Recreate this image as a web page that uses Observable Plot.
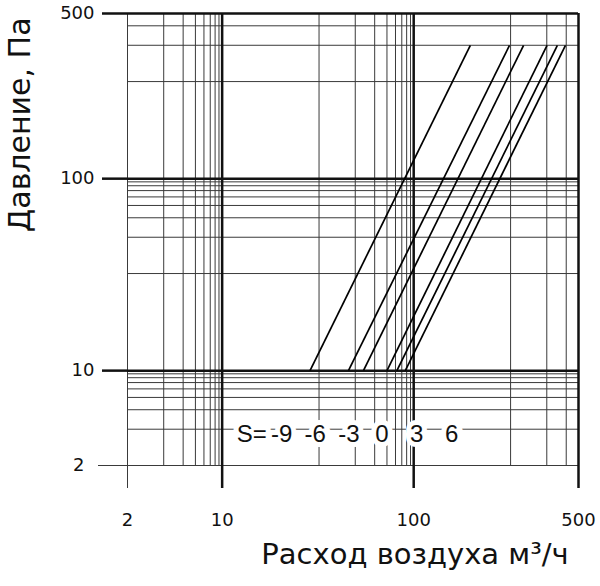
<!DOCTYPE html>
<html>
<head>
<meta charset="utf-8">
<script src="https://cdn.jsdelivr.net/npm/d3@7"></script>
<script src="https://cdn.jsdelivr.net/npm/@observablehq/plot@0.6"></script>
<style>
  body { margin: 0; background: #fff; }
</style>
</head>
<body>
<div id="chart"></div>
<script>
// the catalogue grid is a "squeezed" log scale: every decade has the same width,
// but the 2..9 lines inside it crowd toward the next power of ten
const P = 0.8
const warp = v => {
  const e = Math.floor(Math.log10(v) + 1e-9)
  const m = v / Math.pow(10, e)
  return e + (1 - Math.pow(m, -P)) / (1 - Math.pow(10, -P))
}

const gridValues = [2, 3, 4, 5, 6, 7, 8, 9, 10, 20, 30, 40, 50, 60, 70, 80, 90, 100, 200, 300, 400, 500]
const heavyValues = [10, 100, 500]
const lightValues = [2]

// S curves: air flow (m3/h) at 10 Pa and at 300 Pa
const sValues = [-9, -6, -3, 0, 3, 6]
const flowAt10 = [18.4, 27.5, 33.6, 50, 62, 77]
const flowAt300 = [143, 198, 228, 301, 348, 395]
const pressureLow = 10
const pressureHigh = 300

const labelTexts = ['S=', ...sValues.map(String)]
const labelFlow = [11.9, 14.6, 19.3, 27.7, 45.3, 101.7, 125.6]
const labelPressure = 2.8

const xTitle = 'Расход воздуха м³/ч'
const yTitle = 'Давление, Па'
const yTitleAt = 140

const curves = sValues.map((s, i) => ({s, q1: flowAt10[i], q2: flowAt300[i]}))
const labels = labelTexts.map((t, i) => ({t, q: labelFlow[i]}))
const fmt = new Map(gridValues.map(v => [warp(v), v]))

const thin = '#3a3a3a'
const wide = '"DejaVu Sans", sans-serif'

let chart = Plot.plot({
  width: 600,
  height: 586,
  marginLeft: 127,
  marginRight: 22,
  marginTop: 13,
  marginBottom: 121,
  style: {fontFamily: '"Liberation Sans", Arial, sans-serif', background: '#fff', color: '#111'},
  x: {type: 'linear', domain: [warp(2), warp(500)]},
  y: {type: 'linear', domain: [warp(2), warp(500)]},
  marks: [
    Plot.ruleX(gridValues.filter(v => !heavyValues.includes(v)), {x: warp, stroke: thin, strokeWidth: 1}),
    Plot.ruleY(gridValues.filter(v => !heavyValues.includes(v)), {y: warp, stroke: thin, strokeWidth: 1}),
    Plot.ruleX(heavyValues, {x: warp, stroke: '#111', strokeWidth: 2.5}),
    Plot.ruleY(heavyValues, {y: warp, stroke: '#111', strokeWidth: 2.5}),

    Plot.axisX(lightValues.map(warp), {
      tickSize: 23, tickPadding: 25, stroke: thin, strokeWidth: 1,
      fontSize: 18, fontFamily: wide, tickFormat: d => fmt.get(d)
    }),
    Plot.axisX(heavyValues.map(warp), {
      tickSize: 23, tickPadding: 25, stroke: '#111', strokeWidth: 2.5,
      fontSize: 18, fontFamily: wide, tickFormat: d => fmt.get(d)
    }),
    Plot.axisY(lightValues.map(warp), {
      tickSize: 29, tickPadding: 14, stroke: thin, strokeWidth: 1,
      fontSize: 18, fontFamily: wide, tickFormat: d => fmt.get(d)
    }),
    Plot.axisY(heavyValues.map(warp), {
      tickSize: 25, tickPadding: 8, stroke: '#111', strokeWidth: 2.5,
      fontSize: 18, fontFamily: wide, tickFormat: d => fmt.get(d)
    }),

    Plot.link(curves, {
      x1: d => warp(d.q1), y1: () => warp(pressureLow),
      x2: d => warp(d.q2), y2: () => warp(pressureHigh),
      stroke: '#000', strokeWidth: 1.7
    }),

    Plot.text(labels, {
      x: d => warp(d.q), y: () => warp(labelPressure), text: 't',
      fontSize: 24, fill: '#111', stroke: '#fff', strokeWidth: 10,
      strokeLinejoin: 'miter', paintOrder: 'stroke'
    }),

    Plot.text([yTitle], {
      frameAnchor: 'left', y: () => warp(yTitleAt), dx: -107, rotate: -90,
      textAnchor: 'middle', fontSize: 30, fontFamily: wide, fill: '#111'
    }),
    Plot.text([xTitle], {
      frameAnchor: 'bottom', dx: 62, dy: 98,
      fontSize: 29, fontFamily: wide, fill: '#111'
    })
  ]
})

d3.select('#chart').append(() => chart)
</script>
</body>
</html>
